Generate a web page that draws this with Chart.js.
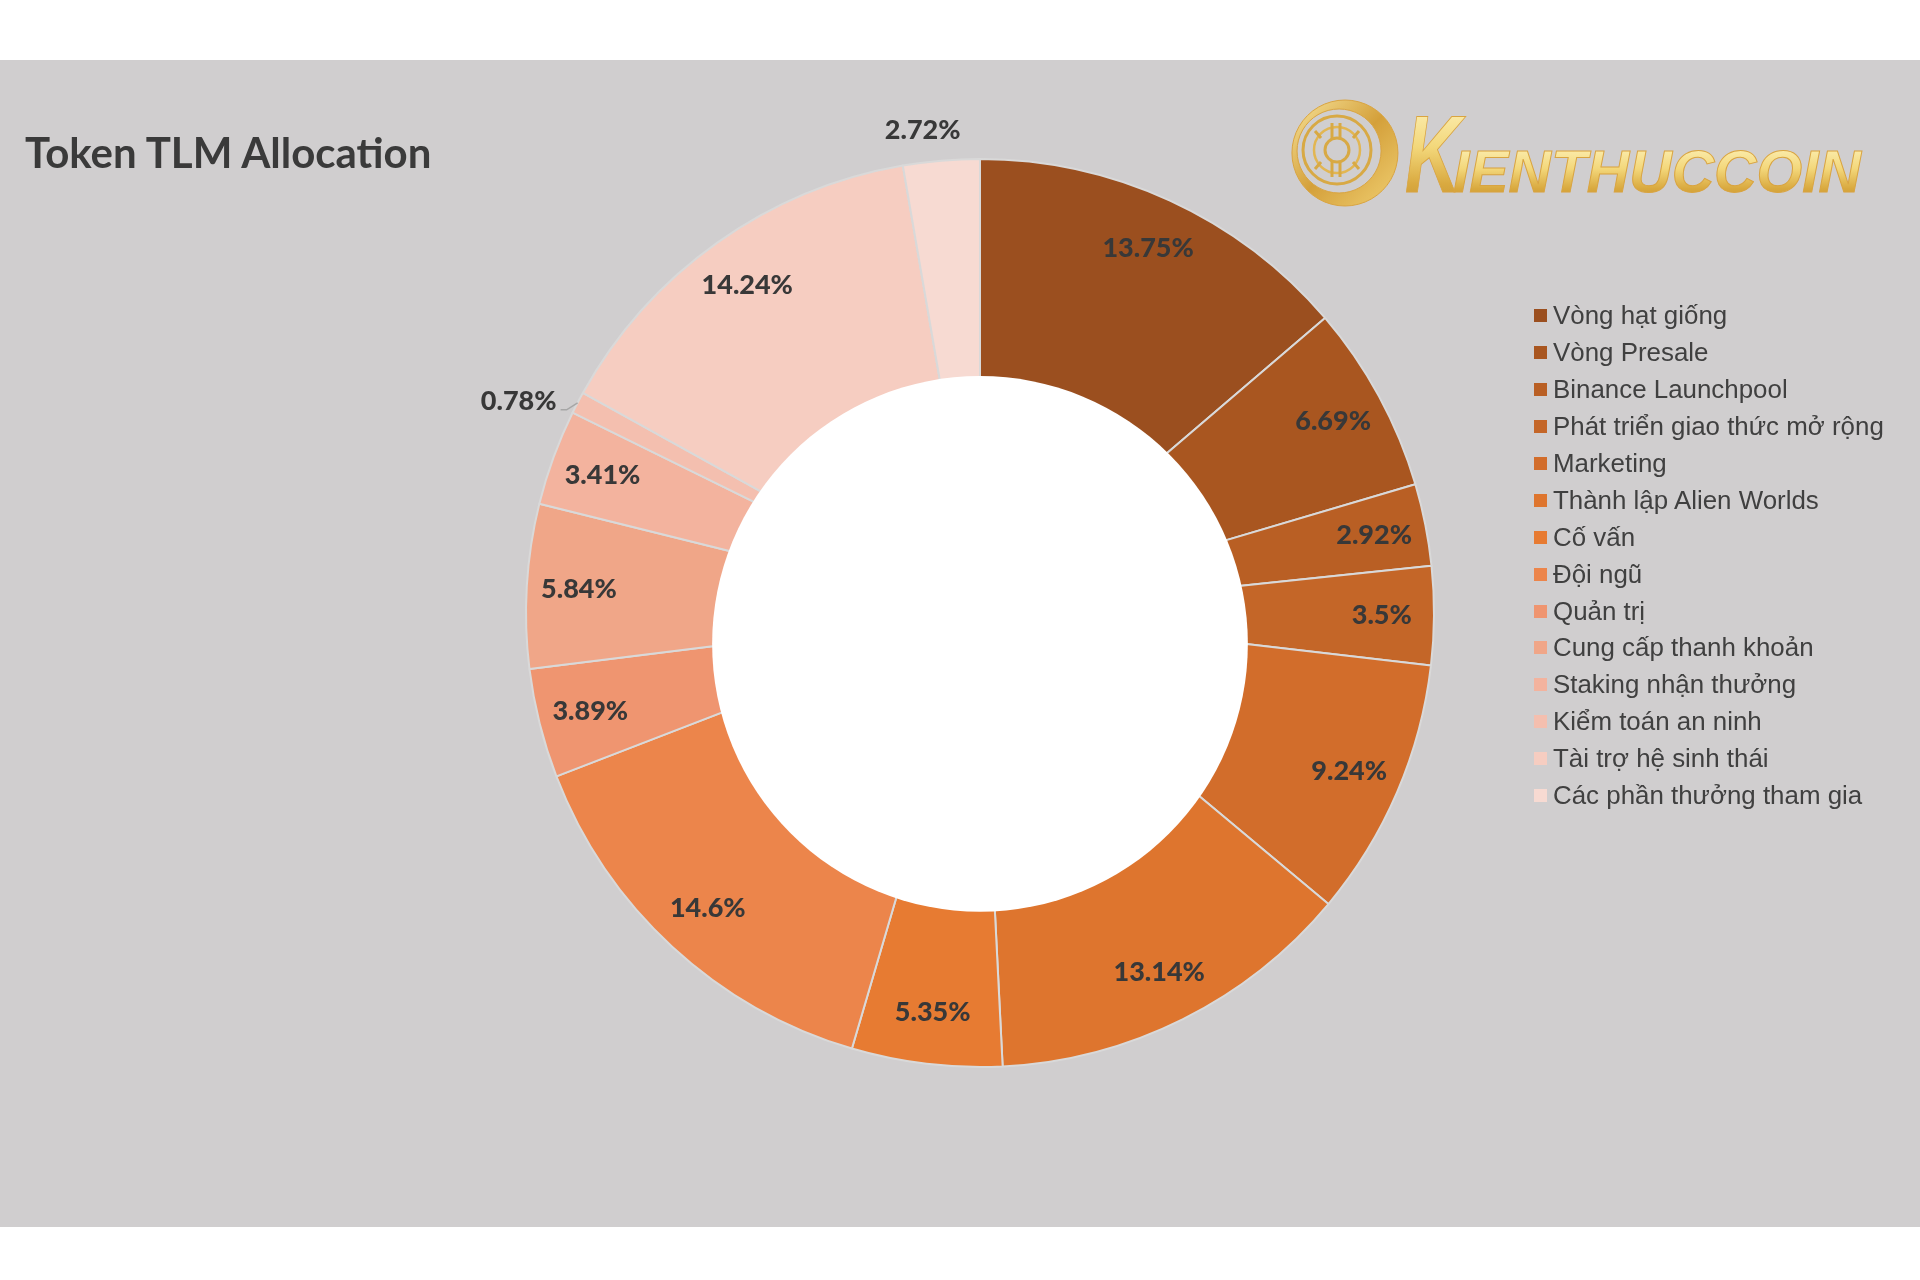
<!DOCTYPE html>
<html lang="vi">
<head>
    <meta charset="UTF-8">
    <title>Token TLM Allocation</title>
    <script src="https://cdn.jsdelivr.net/npm/chart.js"></script>
    <style>
        body {
            margin: 0;
            width: 1920px;
            height: 1280px;
            background: #ffffff;
            position: relative;
            overflow: hidden;
            font-family: 'Liberation Sans', Arial, sans-serif;
        }
        #band {
            position: absolute;
            left: 0;
            top: 60px;
            width: 1920px;
            height: 1167px;
            background: #d0cecf;
        }
        #chart {
            position: absolute;
            left: 0;
            top: 0;
        }
        #title {
            position: absolute;
            left: 25px;
            top: 131px;
            font: bold 42px Lato, sans-serif;
            line-height: 42px;
            color: #3a3a3a;
            white-space: nowrap;
        }
        #logo {
            position: absolute;
            left: 1285px;
            top: 95px;
        }
        #legend {
            position: absolute;
            left: 1534px;
            top: 297.5px;
            margin: 0;
            padding: 0;
            list-style: none;
            font-size: 25.9px;
            color: #404040;
        }
        #legend li {
            display: flex;
            align-items: center;
            height: 36.9px;
            white-space: nowrap;
        }
        #legend .box {
            width: 13px;
            height: 13px;
            margin-right: 6px;
            flex: none;
        }
    </style>
</head>
<body>
    <div id="band"></div>
    <canvas id="chart" width="1920" height="1280"></canvas>
    <div id="title">Token TLM Allocation</div>
    <svg id="logo" width="600" height="125" viewBox="0 0 600 125">
        <defs>
            <linearGradient id="goldText" x1="0" y1="0" x2="0" y2="1">
                <stop offset="0" stop-color="#fff6c4"/>
                <stop offset="0.45" stop-color="#f3d77a"/>
                <stop offset="0.75" stop-color="#d9a93f"/>
                <stop offset="1" stop-color="#c39030"/>
            </linearGradient>
            <linearGradient id="goldRing" x1="0" y1="0" x2="1" y2="1">
                <stop offset="0" stop-color="#f7e39a"/>
                <stop offset="0.5" stop-color="#d4a03a"/>
                <stop offset="1" stop-color="#f0cf72"/>
            </linearGradient>
        </defs>
        <path fill-rule="evenodd" fill="url(#goldRing)" stroke="#d9a441" stroke-width="1"
              d="M60 5 A53 53 0 1 1 59.9 5 Z M54 14 A42 42 0 1 0 54.1 14 Z"/>
        <circle cx="52" cy="55" r="34" fill="none" stroke="#d8a944" stroke-width="3"/>
        <circle cx="52" cy="55" r="23" fill="none" stroke="#e2b652" stroke-width="2.5"/>
        <circle cx="52" cy="55" r="12" fill="none" stroke="#d8a944" stroke-width="3"/>
        <path d="M47 28 V44 M55 28 V44 M47 66 V82 M55 66 V82 M30 36 L36 43 M74 36 L68 43 M30 74 L36 67 M74 74 L68 67" stroke="#d8a944" stroke-width="3" fill="none"/>
        <text x="120" y="97" font-family="Liberation Sans, Arial" font-weight="bold" font-style="italic" font-size="110" textLength="56" lengthAdjust="spacingAndGlyphs" fill="url(#goldText)" stroke="#d9a441" stroke-width="1">K</text>
        <text x="168" y="97" font-family="Liberation Sans, Arial" font-weight="bold" font-style="italic" font-size="59" textLength="408" lengthAdjust="spacingAndGlyphs" fill="url(#goldText)" stroke="#d9a441" stroke-width="1">IENTHUCCOIN</text>
    </svg>
    <ul id="legend"></ul>
    <script>
        // Dữ liệu phân bổ token (%)
        const categories = [
            'Vòng hạt giống',
            'Vòng Presale',
            'Binance Launchpool',
            'Phát triển giao thức mở rộng',
            'Marketing',
            'Thành lập Alien Worlds',
            'Cố vấn',
            'Đội ngũ',
            'Quản trị',
            'Cung cấp thanh khoản',
            'Staking nhận thưởng',
            'Kiểm toán an ninh',
            'Tài trợ hệ sinh thái',
            'Các phần thưởng tham gia'
        ];
        const shares = [13.75, 6.69, 2.92, 3.5, 9.24, 13.14, 5.35, 14.6, 3.89, 5.84, 3.41, 0.78, 14.24, 2.72];

        const sliceColors = [
            '#9b4f1f', '#a95620', '#b95f24', '#c46628', '#d26d2b', '#de752e', '#e77b32',
            '#ec854b', '#ef9570', '#f0a688', '#f3b39e', '#f4bfaf', '#f6cdc1', '#f7dad2'
        ];

        // Nhãn nằm ngoài vòng
        const outsideLabels = {
            'Các phần thưởng tham gia': { leader: false, dx: -16 },
            'Kiểm toán an ninh': { leader: true }
        };

        // Chú thích HTML tạo từ generateLabels của Chart.js
        const htmlLegend = {
            id: 'htmlLegend',
            afterUpdate(chart) {
                const ul = document.getElementById('legend');
                ul.innerHTML = '';
                const items = chart.options.plugins.legend.labels.generateLabels(chart);
                items.forEach(item => {
                    const li = document.createElement('li');
                    const box = document.createElement('span');
                    box.className = 'box';
                    box.style.background = item.fillStyle;
                    li.appendChild(box);
                    li.appendChild(document.createTextNode(item.text));
                    ul.appendChild(li);
                });
            }
        };

        // Lỗ trắng ở giữa + nhãn phần trăm
        const sliceLabels = {
            id: 'sliceLabels',
            afterDatasetsDraw(chart) {
                const ctx = chart.ctx;
                const meta = chart.getDatasetMeta(0);
                const { x, y, outerRadius } = meta.data[0].getProps(['x', 'y', 'outerRadius'], true);

                ctx.save();
                ctx.fillStyle = '#ffffff';
                ctx.beginPath();
                ctx.arc(x, y + outerRadius * 0.068, outerRadius * 0.59, 0, Math.PI * 2);
                ctx.fill();

                ctx.font = '900 27px Lato, sans-serif';
                ctx.fillStyle = '#383838';
                ctx.textBaseline = 'middle';
                ctx.textAlign = 'center';

                meta.data.forEach((arc, i) => {
                    const { startAngle, endAngle } = arc.getProps(['startAngle', 'endAngle'], true);
                    const mid = (startAngle + endAngle) / 2;
                    const text = shares[i] + '%';
                    const cos = Math.cos(mid);
                    const sin = Math.sin(mid);
                    const out = outsideLabels[categories[i]];

                    if (!out) {
                        const r = outerRadius * 0.885;
                        ctx.fillText(text, x + cos * r, y + sin * r);
                    } else if (!out.leader) {
                        const r = outerRadius + 30;
                        ctx.fillText(text, x + cos * r + (out.dx || 0), y + sin * r);
                    } else {
                        const px = x + cos * outerRadius;
                        const py = y + sin * outerRadius;
                        ctx.strokeStyle = '#a6a6a6';
                        ctx.lineWidth = 1.5;
                        ctx.beginPath();
                        ctx.moveTo(px, py);
                        ctx.lineTo(px - 11, py + 7);
                        ctx.lineTo(px - 17, py + 7);
                        ctx.stroke();
                        ctx.textAlign = 'right';
                        ctx.textBaseline = 'alphabetic';
                        ctx.fillText(text, px - 21, py + 7);
                        ctx.textAlign = 'center';
                        ctx.textBaseline = 'middle';
                    }
                });
                ctx.restore();
            }
        };

        const ctx = document.getElementById('chart').getContext('2d');
        new Chart(ctx, {
            type: 'doughnut',
            data: {
                labels: categories,
                datasets: [{
                    data: shares,
                    backgroundColor: sliceColors,
                    borderColor: '#d9d9d9',
                    borderWidth: 2
                }]
            },
            options: {
                responsive: false,
                animation: false,
                cutout: '50%',
                layout: {
                    padding: { top: 158, bottom: 212, left: 525, right: 485 }
                },
                plugins: {
                    legend: { display: false },
                    tooltip: { enabled: false }
                }
            },
            plugins: [htmlLegend, sliceLabels]
        });
    </script>
</body>
</html>
